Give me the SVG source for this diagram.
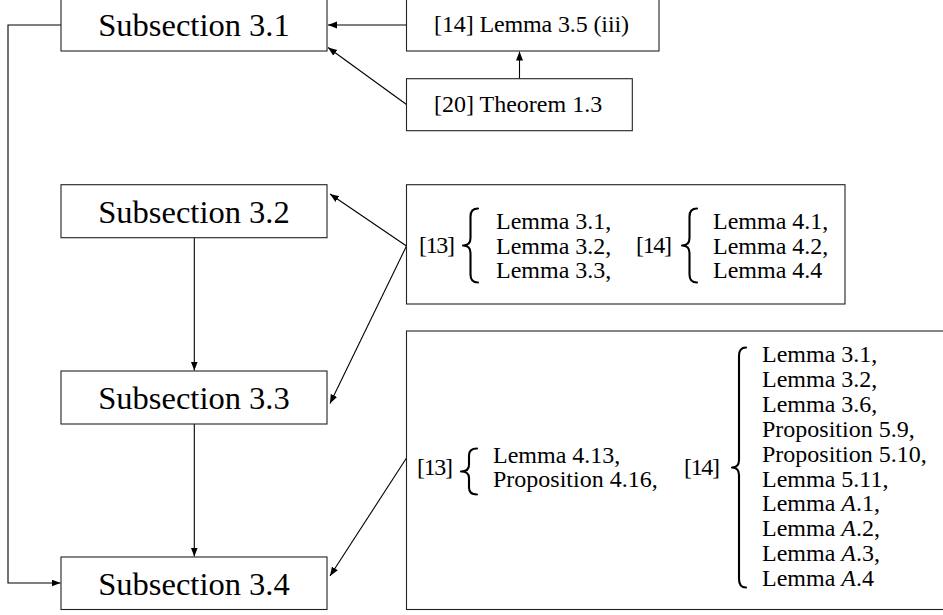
<svg xmlns="http://www.w3.org/2000/svg" width="943" height="615" viewBox="0 0 943 615">
  <style>
    .box { fill: #ffffff; stroke: #222222; stroke-width: 1.1; }
    .big { font-family: "Liberation Serif", "Times New Roman", "DejaVu Serif", serif; font-size: 32.5px; fill: #000; }
    .sm { font-family: "Liberation Serif", "Times New Roman", "DejaVu Serif", serif; font-size: 24px; fill: #000; }
    .edge { fill: none; stroke: #000; stroke-width: 1.1; }
    .brace { fill: none; stroke: #000; stroke-width: 2.1; stroke-linecap: round; stroke-linejoin: round; }
  </style>
  <defs>
    <marker id="arr" markerUnits="userSpaceOnUse" markerWidth="10" markerHeight="8" refX="9" refY="3.5" orient="auto">
      <path d="M0,0 L9,3.5 L0,7 z" fill="#000"/>
    </marker>
  </defs>
  <rect width="943" height="615" fill="#ffffff"/>

  <g id="edges">
    <line class="edge" x1="406.5" y1="25" x2="328" y2="25" marker-end="url(#arr)"/>
    <line class="edge" x1="406.5" y1="104.5" x2="328" y2="47.5" marker-end="url(#arr)"/>
    <line class="edge" x1="519.5" y1="78.7" x2="519.5" y2="51.5" marker-end="url(#arr)"/>
    <line class="edge" x1="406.5" y1="246" x2="330" y2="194" marker-end="url(#arr)"/>
    <line class="edge" x1="406.5" y1="246" x2="330" y2="403.5" marker-end="url(#arr)"/>
    <line class="edge" x1="406.5" y1="458" x2="330" y2="576" marker-end="url(#arr)"/>
    <line class="edge" x1="194.3" y1="237.7" x2="194.3" y2="370.5" marker-end="url(#arr)"/>
    <line class="edge" x1="194.3" y1="424" x2="194.3" y2="556.5" marker-end="url(#arr)"/>
    <polyline class="edge" points="61,25 8,25 8,583 60.5,583" marker-end="url(#arr)"/>
  </g>

  <g id="sub31">
    <rect class="box" x="61" y="-2" width="266" height="53"/>
    <text class="big" x="194" y="36" text-anchor="middle">Subsection 3.1</text>
  </g>
  <g id="sub32">
    <rect class="box" x="61" y="184.7" width="266" height="53"/>
    <text class="big" x="194" y="223" text-anchor="middle">Subsection 3.2</text>
  </g>
  <g id="sub33">
    <rect class="box" x="61" y="371" width="266" height="53"/>
    <text class="big" x="194" y="409" text-anchor="middle">Subsection 3.3</text>
  </g>
  <g id="sub34">
    <rect class="box" x="61" y="557" width="266" height="52.5"/>
    <text class="big" x="194" y="595" text-anchor="middle">Subsection 3.4</text>
  </g>

  <g id="lemma35">
    <rect class="box" x="406.5" y="-2" width="252.5" height="53"/>
    <text class="sm" x="434" y="32" textLength="195" lengthAdjust="spacing">[14] Lemma 3.5 (iii)</text>
  </g>
  <g id="thm13">
    <rect class="box" x="406.5" y="78.7" width="225.8" height="52"/>
    <text class="sm" x="434" y="111.5">[20] Theorem 1.3</text>
  </g>

  <g id="refs32">
    <rect class="box" x="406.5" y="184.7" width="438.5" height="119.3"/>
    <text class="sm" x="419" y="253" textLength="36" lengthAdjust="spacing">[13]</text>
    <path class="brace" d="M478,208.5 Q470.5,208.5 470.5,216.5 L470.5,238 Q470.5,245.5 463,245.5 Q470.5,245.5 470.5,253 L470.5,274.5 Q470.5,282.5 478,282.5"/>
    <text class="sm" x="496" y="229">Lemma 3.1,</text>
    <text class="sm" x="496" y="253.5">Lemma 3.2,</text>
    <text class="sm" x="496" y="278">Lemma 3.3,</text>
    <text class="sm" x="636" y="253" textLength="36" lengthAdjust="spacing">[14]</text>
    <path class="brace" d="M697,208.5 Q689.5,208.5 689.5,216.5 L689.5,238 Q689.5,245.5 682,245.5 Q689.5,245.5 689.5,253 L689.5,274.5 Q689.5,282.5 697,282.5"/>
    <text class="sm" x="713" y="229">Lemma 4.1,</text>
    <text class="sm" x="713" y="253.5">Lemma 4.2,</text>
    <text class="sm" x="713" y="278">Lemma 4.4</text>
  </g>

  <g id="refs34">
    <rect class="box" x="406.5" y="331" width="560" height="278.5"/>
    <text class="sm" x="417" y="475" textLength="36" lengthAdjust="spacing">[13]</text>
    <path class="brace" d="M477,448.5 Q469,448.5 469,455.5 L469,465 Q469,471.5 461,471.5 Q469,471.5 469,478 L469,487.5 Q469,494.5 477,494.5"/>
    <text class="sm" x="493" y="462.5">Lemma 4.13,</text>
    <text class="sm" x="493" y="487">Proposition 4.16,</text>
    <text class="sm" x="684" y="475" textLength="36" lengthAdjust="spacing">[14]</text>
    <path class="brace" d="M746,347.5 Q739,347.5 739,356 L739,460 Q739,467.5 732,467.5 Q739,467.5 739,475 L739,579 Q739,587.5 746,587.5"/>
    <text class="sm" x="762" y="362">Lemma 3.1,</text>
    <text class="sm" x="762" y="386.9">Lemma 3.2,</text>
    <text class="sm" x="762" y="411.8">Lemma 3.6,</text>
    <text class="sm" x="762" y="436.7">Proposition 5.9,</text>
    <text class="sm" x="762" y="461.6">Proposition 5.10,</text>
    <text class="sm" x="762" y="486.5">Lemma 5.11,</text>
    <text class="sm" x="762" y="511.4">Lemma <tspan font-style="italic">A</tspan>.1,</text>
    <text class="sm" x="762" y="536.3">Lemma <tspan font-style="italic">A</tspan>.2,</text>
    <text class="sm" x="762" y="561.2">Lemma <tspan font-style="italic">A</tspan>.3,</text>
    <text class="sm" x="762" y="586">Lemma <tspan font-style="italic">A</tspan>.4</text>
  </g>
</svg>
